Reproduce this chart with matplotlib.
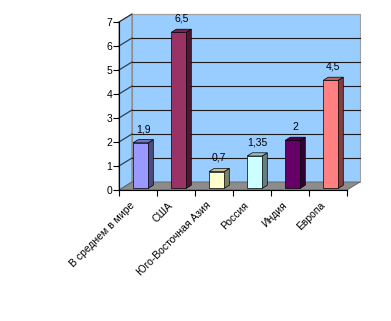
import matplotlib
matplotlib.use("Agg")
import matplotlib.pyplot as plt
from matplotlib.patches import Polygon
from matplotlib.transforms import ScaledTranslation
import numpy as np

categories = ["В среднем в мире", "США", "Юго-Восточная Азия", "Россия", "Индия", "Европа"]
values = [1.9, 6.5, 0.7, 1.35, 2, 4.5]
labels = ["1,9", "6,5", "0,7", "1,35", "2", "4,5"]
front_colors = ["#9999FF", "#993366", "#FFFFCC", "#CCFFFF", "#660066", "#FF8080"]
side_colors = ["#4C4C80", "#4C1933", "#808066", "#668080", "#330033", "#804040"]
top_colors = ["#7373BF", "#73264C", "#BFBF99", "#99BFBF", "#4C004C", "#BF6060"]

FS = 7.5
W, H = 391, 321
fig = plt.figure(figsize=(W / 100, H / 100), dpi=100)
fig.patch.set_facecolor("white")
# front plane of plot area in pixels
x0, x1, y0, y1 = 119, 347, 190, 22
ax = fig.add_axes([x0 / W, 1 - y0 / H, (x1 - x0) / W, (y0 - y1) / H])
n = len(categories)
ymax = 7
ax.set_xlim(0, n)
ax.set_ylim(0, ymax)
ax.set_facecolor("none")

# depth offset in data units (13 px right, 8 px up)
px_x = n / (x1 - x0)
px_y = ymax / (y0 - y1)
DX, DY = 13 * px_x, 8 * px_y

wall = "#99CCFF"
# back wall
ax.add_patch(Polygon([(DX, DY), (n + DX, DY), (n + DX, ymax + DY), (DX, ymax + DY)],
                     closed=True, facecolor=wall, edgecolor="#A0A0A0", lw=0.8,
                     clip_on=False, zorder=1))
# left wall
ax.add_patch(Polygon([(0, 0), (DX, DY), (DX, ymax + DY), (0, ymax)],
                     closed=True, facecolor=wall, edgecolor="#808080", lw=0.8,
                     clip_on=False, zorder=1))
# floor
ax.add_patch(Polygon([(0, 0), (n, 0), (n + DX, DY), (DX, DY)],
                     closed=True, facecolor="#8C8C8C", edgecolor="#606060", lw=0.6,
                     clip_on=False, zorder=2))
# gridlines
for v in range(1, ymax + 1):
    ax.plot([DX, n + DX], [v + DY, v + DY], color="#1A1A1A" if v < ymax else "#A0A0A0",
            lw=0.8, clip_on=False, zorder=1.5)
    ax.plot([0, DX], [v, v + DY], color="#303030", lw=0.8, clip_on=False, zorder=1.5)

# bars
bw = 15 * px_x
f0, f1 = 0.2, 0.6  # depth fractions of bar front/back
for i, (v, fc, sc, tc) in enumerate(zip(values, front_colors, side_colors, top_colors)):
    cx = i + 0.5 + f0 * DX
    bx0 = cx - bw / 2
    bx1 = cx + bw / 2
    by0 = f0 * DY
    by1 = v + f0 * DY
    ddx = (f1 - f0) * DX
    ddy = (f1 - f0) * DY
    ax.add_patch(Polygon([(bx1, by0), (bx1 + ddx, by0 + ddy), (bx1 + ddx, by1 + ddy), (bx1, by1)],
                         closed=True, facecolor=sc, edgecolor="black", lw=0.5, zorder=3, clip_on=False))
    ax.add_patch(Polygon([(bx0, by1), (bx1, by1), (bx1 + ddx, by1 + ddy), (bx0 + ddx, by1 + ddy)],
                         closed=True, facecolor=tc, edgecolor="black", lw=0.5, zorder=3, clip_on=False))
    ax.add_patch(Polygon([(bx0, by0), (bx1, by0), (bx1, by1), (bx0, by1)],
                         closed=True, facecolor=fc, edgecolor="black", lw=0.5, zorder=3, clip_on=False))
    ax.annotate(labels[i], (cx + ddx / 2, by1 + ddy), xytext=(0, 4), textcoords="offset points",
                ha="center", va="bottom", fontsize=FS, family="Liberation Sans", zorder=5,
                annotation_clip=False)

for s in ["top", "right"]:
    ax.spines[s].set_visible(False)
ax.spines["left"].set_color("black")
ax.spines["bottom"].set_color("black")
ax.spines["left"].set_linewidth(0.8)
ax.spines["bottom"].set_linewidth(0.8)
ax.spines["left"].set_zorder(6)
ax.spines["bottom"].set_zorder(6)

ax.set_yticks(range(0, ymax + 1))
ax.set_yticklabels([str(v) for v in range(0, ymax + 1)], fontsize=FS, family="Liberation Sans")
ax.set_xticks(range(0, n + 1))
ax.set_xticklabels([""] * (n + 1))
ax.set_xticks(np.arange(n) + 0.5, minor=True)
ax.set_xticklabels(categories, minor=True, rotation=45, ha="right", va="center",
                   rotation_mode="anchor", fontsize=FS, family="Liberation Sans")
ax.tick_params(axis="y", direction="out", length=4, width=0.8, pad=1)
ax.tick_params(axis="x", which="major", direction="out", length=4, width=0.8)
ax.tick_params(axis="x", which="minor", length=0, pad=10)
shift = ScaledTranslation(-5 / 100, 0, fig.dpi_scale_trans)
for lab in ax.get_xticklabels(minor=True):
    lab.set_transform(lab.get_transform() + shift)

fig.savefig("out.png", dpi=100, facecolor="white")
